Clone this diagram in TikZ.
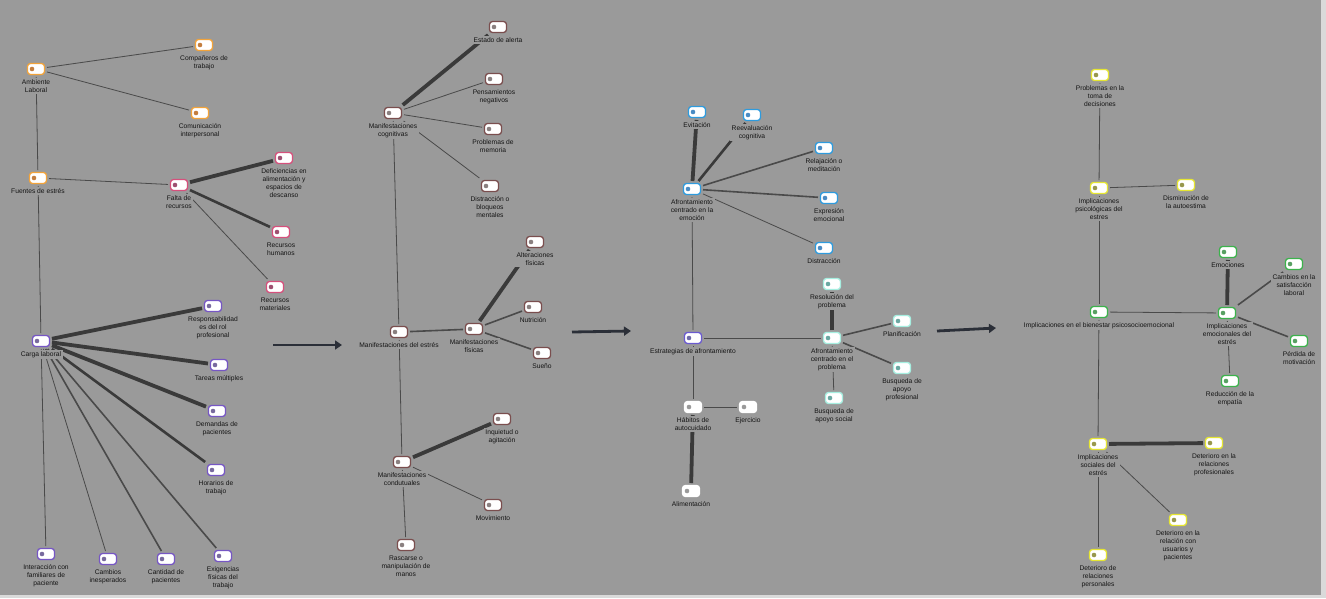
\documentclass[tikz,border=0pt]{standalone}
\usepackage{fontspec}
\newfontfamily\lblfamily{Liberation Sans}
\usetikzlibrary{arrows.meta}
\pgfdeclarelayer{back}
\pgfdeclarelayer{edges}
\pgfsetlayers{back,edges,main}
\definecolor{bgc}{HTML}{9A9A9A}
\definecolor{framec}{HTML}{DADADA}
\definecolor{txtc}{HTML}{151515}
\definecolor{edgec}{HTML}{4A4A4A}
\definecolor{thickc}{HTML}{3A3A3A}
\definecolor{arrowc}{HTML}{2B2F38}
\definecolor{bdorn}{HTML}{F2A33A}\definecolor{dtorn}{HTML}{C47E3E}
\definecolor{bdpnk}{HTML}{D6507C}\definecolor{dtpnk}{HTML}{9E5070}
\definecolor{bdpur}{HTML}{7656C4}\definecolor{dtpur}{HTML}{786A9E}
\definecolor{bdbrn}{HTML}{7A4E4E}\definecolor{dtbrn}{HTML}{8A8080}
\definecolor{bdblu}{HTML}{2E9BDE}\definecolor{dtblu}{HTML}{4A8CC4}
\definecolor{bdtea}{HTML}{A6EEE0}\definecolor{dttea}{HTML}{6AA8A2}
\definecolor{bdwht}{HTML}{FFFFFF}\definecolor{dtwht}{HTML}{9A9A9A}
\definecolor{bdpuu}{HTML}{6A5AD0}\definecolor{dtpuu}{HTML}{6E6AA8}
\definecolor{bdyel}{HTML}{E6E632}\definecolor{dtyel}{HTML}{98984C}
\definecolor{bdgrn}{HTML}{3CB24C}\definecolor{dtgrn}{HTML}{58A062}
\tikzset{
  x=1pt, y=-1pt,
  icon/.style={draw=bd#1, line width=1.3pt, fill=white, rounded corners=3pt,
    minimum width=17pt, minimum height=11pt, inner sep=0pt, outer sep=2.5pt},
  lbl/.style={font=\lblfamily\fontsize{6.7pt}{8pt}\selectfont, align=center,
    fill=bgc, text=txtc, inner sep=1.5pt},
  e1/.style={draw=edgec, line width=0.8pt},
  e2/.style={draw=edgec, line width=1.6pt},
  e3/.style={draw=thickc, line width=2.6pt},
  e4/.style={draw=thickc, line width=3.8pt},
  bigarrow/.style={draw=arrowc, line width=2.8pt, -{Triangle[length=7pt,width=9pt]}}
}
\newcommand\mkc[5]{%
  \node[icon=#4] (#1) at (#2,#3) {};
  \fill[dt#4] (#2,#3) ++(-4pt,0pt) circle[radius=2.3pt];
  \node[lbl, anchor=north] (#1-t) at ([yshift=-0.8pt]#1.south) {#5};
}
\begin{document}
\begin{tikzpicture}
\useasboundingbox (0,0) rectangle (1326,598);
\begin{pgfonlayer}{back}
  \fill[framec] (0,0) rectangle (1326,598);
  \fill[bgc] (0,0) rectangle (1321,595);
\end{pgfonlayer}
% ---------- cluster 1
\mkc{amb}{36}{69}{orn}{Ambiente\\Laboral}
\mkc{comp}{204}{45}{orn}{Compañeros de\\trabajo}
\mkc{comu}{200}{113}{orn}{Comunicación\\interpersonal}
\mkc{fue}{38}{178}{orn}{Fuentes de estrés}
\mkc{fal}{179}{185}{pnk}{Falta de\\recursos}
\mkc{def}{284}{158}{pnk}{Deficiencias en\\alimentación y\\espacios de\\descanso}
\mkc{rhum}{281}{232}{pnk}{Recursos\\humanos}
\mkc{rmat}{275}{287}{pnk}{Recursos\\materiales}
\mkc{car}{41}{341}{pur}{Carga laboral}
\mkc{resp}{213}{306}{pur}{Responsabilidad\\es del rol\\profesional}
\mkc{tar}{219}{365}{pur}{Tareas múltiples}
\mkc{dem}{217}{411}{pur}{Demandas de\\pacientes}
\mkc{hor}{216}{470}{pur}{Horarios de\\trabajo}
\mkc{inter}{46}{554}{pur}{Interacción con\\familiares de\\paciente}
\mkc{camb}{108}{559}{pur}{Cambios\\inesperados}
\mkc{cant}{166}{559}{pur}{Cantidad de\\pacientes}
\mkc{exig}{223}{556}{pur}{Exigencias\\físicas del\\trabajo}
% ---------- cluster 2
\mkc{cog}{393}{113}{brn}{Manifestaciones\\cognitivas}
\mkc{ale}{498}{27}{brn}{Estado de alerta}
\mkc{pen}{494}{79}{brn}{Pensamientos\\negativos}
\mkc{mem}{493}{129}{brn}{Problemas de\\memoria}
\mkc{dis}{490}{186}{brn}{Distracción o\\bloqueos\\mentales}
\mkc{mest}{399}{332}{brn}{Manifestaciones del estrés}
\mkc{fis}{474}{329}{brn}{Manifestaciones\\físicas}
\mkc{alt}{535}{242}{brn}{Alteraciones\\físicas}
\mkc{nut}{533}{307}{brn}{Nutrición}
\mkc{sue}{542}{353}{brn}{Sueño}
\mkc{cond}{402}{462}{brn}{Manifestaciones\\condutuales}
\mkc{inq}{502}{419}{brn}{Inquietud o\\agitación}
\mkc{mov}{493}{505}{brn}{Movimiento}
\mkc{ras}{406}{545}{brn}{Rascarse o\\manipulación de\\manos}
% ---------- cluster 3
\mkc{evi}{697}{112}{blu}{Evitación}
\mkc{ree}{752}{115}{blu}{Reevaluación\\cognitiva}
\mkc{emo}{692}{189}{blu}{Afrontamiento\\centrado en la\\emoción}
\mkc{rel}{824}{148}{blu}{Relajación o\\meditación}
\mkc{exp}{829}{198}{blu}{Expresión\\emocional}
\mkc{dtr}{824}{248}{blu}{Distracción}
\mkc{est}{693}{338}{puu}{Estrategias de afrontamiento}
\mkc{res}{832}{284}{tea}{Resolución del\\problema}
\mkc{pro}{832}{338}{tea}{Afrontamiento\\centrado en el\\problema}
\mkc{pla}{902}{321}{tea}{Planificación}
\mkc{bpr}{902}{368}{tea}{Busqueda de\\apoyo\\profesional}
\mkc{bso}{834}{398}{tea}{Busqueda de\\apoyo social}
\mkc{hab}{693}{407}{wht}{Hábitos de\\autocuidado}
\mkc{eje}{748}{407}{wht}{Ejercicio}
\mkc{ali}{691}{491}{wht}{Alimentación}
% ---------- cluster 4
\mkc{tom}{1100}{75}{yel}{Problemas en la\\toma de\\decisiones}
\mkc{psi}{1099}{188}{yel}{Implicaciones\\psicológicas del\\estres}
\mkc{aut}{1186}{185}{yel}{Disminución de\\la autoestima}
\mkc{bie}{1099}{312}{grn}{Implicaciones en el bienestar psicosocioemocional}
\mkc{emc}{1228}{252}{grn}{Emociones}
\mkc{sat}{1294}{264}{grn}{Cambios en la\\satisfacción\\laboral}
\mkc{emi}{1227}{313}{grn}{Implicaciones\\emocionales del\\estrés}
\mkc{per}{1299}{341}{grn}{Pérdida de\\motivación}
\mkc{red}{1230}{381}{grn}{Reducción de la\\empatía}
\mkc{soc}{1098}{444}{yel}{Implicaciones\\sociales del\\estrés}
\mkc{dpr}{1214}{443}{yel}{Deterioro en la\\relaciones\\profesionales}
\mkc{dus}{1178}{520}{yel}{Deterioro en la\\relación con\\usuarios y\\pacientes}
\mkc{dpe}{1098}{555}{yel}{Deterioro de\\relaciones\\personales}
% ---------- arrows
\coordinate (a1s) at (273,345); \coordinate (a1e) at (342,345);
\coordinate (a2s) at (572,332); \coordinate (a2e) at (631,331);
\coordinate (a3s) at (937,331); \coordinate (a3e) at (996,328);
\draw[bigarrow] (a1s) -- (a1e);
\draw[bigarrow] (a2s) -- (a2e);
\draw[bigarrow] (a3s) -- (a3e);
\begin{pgfonlayer}{edges}
% cluster 1
\draw[e1] (amb) -- (comp);
\draw[e1] (amb) -- (comu);
\draw[e1] (amb) -- (fue);
\draw[e1] (fue) -- (fal);
\draw[e1] (fue) -- (car);
\draw[e4] (fal) -- (def);
\draw[e3] (fal) -- (rhum);
\draw[e1] (fal) -- (rmat);
\draw[e4] (car) -- (resp);
\draw[e4] (car) -- (tar);
\draw[e4] (car) -- (dem);
\draw[e3] (car) -- (hor);
\draw[e2] (car) -- (exig);
\draw[e2] (car) -- (cant);
\draw[e1] (car) -- (camb);
\draw[e1] (car) -- (inter);
% cluster 2
\draw[e4] (cog) -- (ale);
\draw[e1] (cog) -- (pen);
\draw[e1] (cog) -- (mem);
\draw[e1] (cog) -- (dis);
\draw[e1] (cog) -- (mest);
\draw[e2] (mest) -- (fis);
\draw[e4] (fis) -- (alt);
\draw[e2] (fis) -- (nut);
\draw[e2] (fis) -- (sue);
\draw[e1] (mest) -- (cond);
\draw[e4] (cond) -- (inq);
\draw[e1] (cond) -- (mov);
\draw[e1] (cond) -- (ras);
% cluster 3
\draw[e4] (emo) -- (evi);
\draw[e3] (emo) -- (ree);
\draw[e2] (emo) -- (rel);
\draw[e2] (emo) -- (exp);
\draw[e1] (emo) -- (dtr);
\draw[e1] (emo) -- (est);
\draw[e1] (est) -- (pro);
\draw[e1] (est) -- (hab);
\draw[e4] (pro) -- (res);
\draw[e2] (pro) -- (pla);
\draw[e2] (pro) -- (bpr);
\draw[e1] (pro) -- (bso);
\draw[e1] (hab) -- (eje);
\draw[e4] (hab) -- (ali);
% cluster 4
\draw[e1] (tom) -- (psi);
\draw[e1] (psi) -- (aut);
\draw[e1] (psi) -- (bie);
\draw[e1] (bie) -- (emi);
\draw[e1] (bie) -- (soc);
\draw[e4] (emi) -- (emc);
\draw[e2] (emi) -- (sat);
\draw[e2] (emi) -- (per);
\draw[e1] (emi) -- (red);
\draw[e4] (soc) -- (dpr);
\draw[e1] (soc) -- (dus);
\draw[e1] (soc) -- (dpe);
\end{pgfonlayer}
\end{tikzpicture}
\end{document}
